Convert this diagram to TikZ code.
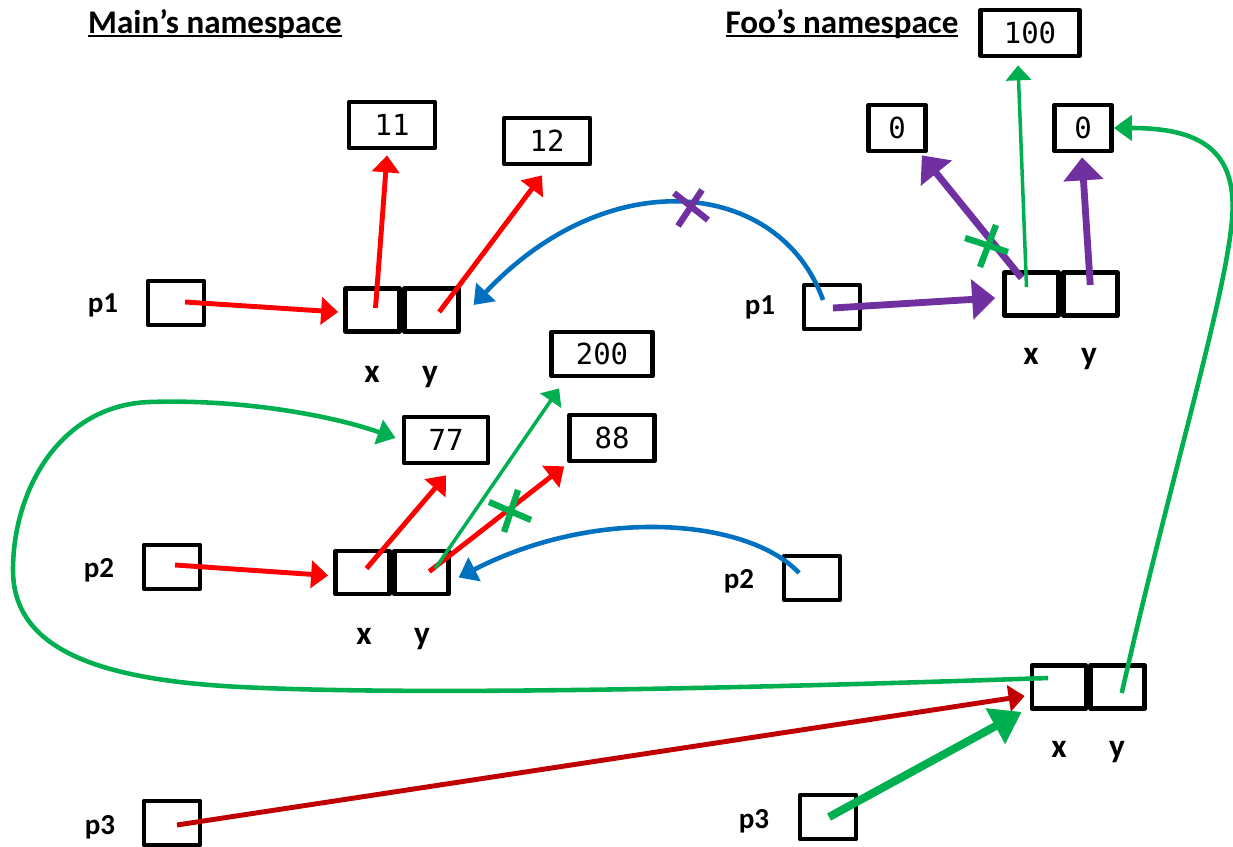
\documentclass[tikz,border=0pt]{standalone}
\usepackage{fontspec}
\setmainfont{Carlito}
\setmonofont{DejaVu Sans Mono}
\usetikzlibrary{arrows.meta,positioning,calc}

\definecolor{rd}{HTML}{FF0000}
\definecolor{drd}{HTML}{C00000}
\definecolor{grn}{HTML}{00B050}
\definecolor{blu}{HTML}{0070C0}
\definecolor{purp}{HTML}{7030A0}

% underline that runs through the descenders
\newcommand{\nsul}[1]{\setbox0\hbox{#1}\rlap{\rule[-1.8pt]{\wd0}{1.2pt}}\box0}

\tikzset{
  ptr/.style={draw, line width=2.7pt, line join=round, minimum width=1.12cm, minimum height=0.88cm, inner sep=0pt},
  cell/.style={draw, line width=2.7pt, line join=round, minimum width=1.08cm, minimum height=0.86cm, inner sep=0pt},
  val/.style={draw, line width=2.7pt, line join=round, minimum height=0.92cm, inner sep=0pt, font=\fontsize{16.5}{19}\selectfont\ttfamily},
  lbl/.style={font=\fontsize{16.5}{19}\selectfont\bfseries, anchor=base, inner sep=0pt},
  xy/.style={font=\fontsize{19}{22}\selectfont\bfseries, anchor=base, inner sep=0pt},
  ns/.style={font=\fontsize{18.8}{22}\selectfont\bfseries, anchor=base, inner sep=0pt},
  rarr/.style={color=rd, line width=2.8pt, -{Triangle[length=0.34cm,width=0.54cm]}},
  darr/.style={color=drd, line width=2.8pt, -{Triangle[length=0.32cm,width=0.52cm]}},
  garr/.style={color=grn, line width=2.6pt, -{Triangle[length=0.36cm,width=0.5cm]}},
  gthin/.style={color=grn, line width=2pt, -{Triangle[length=0.3cm,width=0.5cm]}},
  gfat/.style={color=grn, line width=4.6pt, -{Triangle[length=0.6cm,width=0.78cm]}},
  barr/.style={color=blu, line width=2.6pt, -{Triangle[length=0.36cm,width=0.52cm]}},
  parr/.style={color=purp, line width=3.9pt, -{Triangle[length=0.46cm,width=0.78cm]}},
  xcut/.style={line width=3.6pt}
}

\begin{document}
\begin{tikzpicture}[x=0.02cm,y=-0.02cm]
\useasboundingbox (0,0) rectangle (1233,847);

% namespaces
\node[ns] (mainns) at (215,34) {\nsul{Main’s namespace}};
\node[ns] (foons) at (842,34) {\nsul{Foo’s namespace}};

% values
\node[val, minimum width=1.72cm] (v11) at (392,125) {11};
\node[val, minimum width=1.72cm] (v12) at (547,141) {12};
\node[val, minimum width=1.98cm] (v100) at (1030,33) {100};
\node[val, minimum width=1.14cm] (v0a) at (897,128) {0};
\node[val, minimum width=1.14cm] (v0b) at (1083,128) {0};
\node[val, minimum width=2.02cm, minimum height=0.88cm] (v200) at (602,354) {200};
\node[val, minimum width=1.68cm] (v77) at (446,440) {77};
\node[val, minimum width=1.7cm] (v88) at (612,438) {88};

% pointers
\node[ptr] (mp1) at (176,303) {};
\node[ptr] (mp2) at (172,567) {};
\node[ptr] (mp3) at (172,823) {};
\node[ptr] (fp1) at (832,307) {};
\node[ptr] (fp2) at (812,578) {};
\node[ptr] (fp3) at (828,817) {};

\foreach \nm/\px/\py/\t in {lmp1/103/313/p1, lmp2/99/577/p2, lmp3/100/834/p3,
                            lfp1/760/315/p1, lfp2/739/588/p2, lfp3/754/828/p3}{
  \node[lbl] (\nm) at (\px,\py) {\t};
}

% points (x,y)
\node[cell] (mp1x) at (372.5,310) {};
\node[cell, right=0pt of mp1x] (mp1y) {};
\node[cell] (mp2x) at (362.5,572.5) {};
\node[cell, right=0pt of mp2x] (mp2y) {};
\node[cell] (fp1x) at (1031.5,294) {};
\node[cell, right=0pt of fp1x] (fp1y) {};
\node[cell] (fp3x) at (1059,687) {};
\node[cell, right=0pt of fp3x] (fp3y) {};

\foreach \c/\cx/\cy in {mp1/372/383, mp2/364/644, fp1/1031/365, fp3/1059/757}{
  \node[xy] (\c lx) at (\cx,\cy) {x};
  \node[xy] (\c ly) at (\cx+58,\cy) {y};
}

% Main
\draw[rarr] ($(mp1.center)+(9,-1)$) -- ($(mp1x.west)+(-5,2)$);
\draw[rarr] ($(mp1x.center)+(3,-2)$) -- ($(v11.south)+(-5,5)$);
\draw[rarr] ($(mp1y.center)+(8,2)$) -- ($(v12.south)+(-5,9)$);
\draw[rarr] ($(mp2.center)+(3,-2)$) -- ($(mp2x.west)+(-5,3)$);
\draw[rarr] ($(mp2x.center)+(4,-4)$) -- ($(v77.south)+(0,10)$);
\draw[rarr] ($(mp2y.center)+(8,-1)$) -- ($(v88.south west)+(-3,3)$);
\draw[gthin] ($(mp2y.center)+(14,-4)$) -- ($(v200.south west)+(10,10)$);
\draw[darr] ($(mp3.center)+(5,2)$) -- ($(fp3x.west)+(-5,9)$);

% Foo
\draw[barr] ($(fp1.center)+(-9,-7)$) .. controls (780,180) and (610,160) .. ($(mp1y.east)+(13,-5)$);
\draw[barr] ($(fp2.center)+(-13,-5)$) .. controls (750,520) and (600,505) .. ($(mp2y.east)+(8,5)$);
\draw[parr] ($(fp1.center)+(1,1)$) -- ($(fp1x.west)+(-7,4)$);
\draw[parr] ($(fp1x.center)+(-10,-16)$) -- ($(v0a.south east)+(-6,2)$);
\draw[parr] ($(fp1y.center)+(0,-9)$) -- ($(v0b.south)+(-1,4)$);
\draw[gthin] ($(fp1x.center)+(-5,-7)$) -- ($(v100.south)+(-12,7)$);
\draw[garr] ($(fp3y.center)+(4,6)$) .. controls (1170,480) and (1225,300) .. (1232,220)
  .. controls (1238,150) and (1200,128) .. (v0b.east);
\draw[garr] ($(fp3x.center)+(-11,-9)$) .. controls (700,690) and (400,695) .. (241,687)
  .. controls (100,680) and (13,650) .. (13,570)
  .. controls (13,490) and (60,405) .. (150,402)
  .. controls (240,399) and (330,415) .. ($(v77.west)+(-6,-2)$);
\draw[gfat] ($(fp3.center)+(1,0)$) -- ($(fp3x.south west)+(-8,1)$);

% crossed out
\draw[xcut, purp] (674,193) -- (708,220) (678,226) -- (702,190);
\draw[xcut, grn] (965,238) -- (1008,252) (996,225) -- (980,267);
\draw[xcut, grn] (489,502) -- (531,520) (518,490) -- (504,532);

\end{tikzpicture}
\end{document}
